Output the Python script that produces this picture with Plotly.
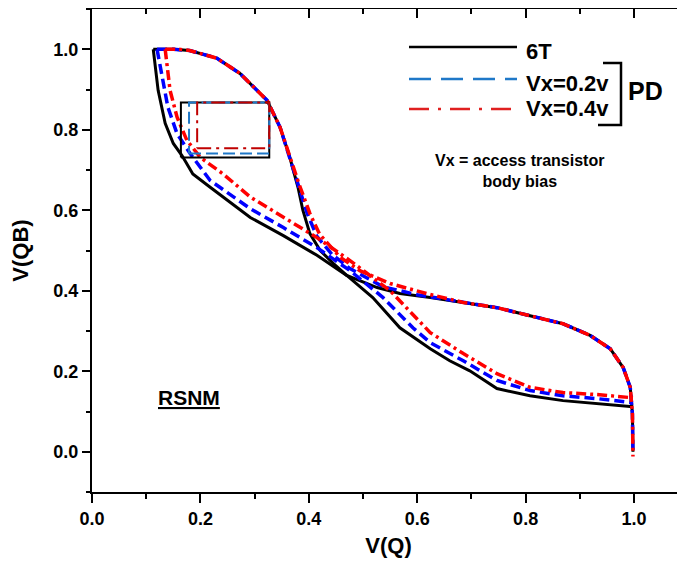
import plotly.graph_objects as go

# butterfly curves (V(Q), V(QB))
t6_up_x = [0.113, 0.15, 0.18, 0.23, 0.273, 0.304, 0.323, 0.347, 0.365, 0.38, 0.389, 0.402, 0.421, 0.445, 0.47,
           0.526, 0.568, 0.624, 0.685, 0.747, 0.808, 0.869, 0.919, 0.956, 0.98, 0.993, 0.997, 0.998, 0.998]
t6_up_y = [1.0, 1.0, 0.997, 0.978, 0.94, 0.898, 0.873, 0.806, 0.731, 0.657, 0.6, 0.542, 0.5, 0.468, 0.438,
           0.408, 0.393, 0.383, 0.371, 0.358, 0.338, 0.318, 0.289, 0.256, 0.209, 0.16, 0.094, 0.03, 0.0]
t6_lo_x = [0.113, 0.122, 0.135, 0.15, 0.166, 0.186, 0.218, 0.292, 0.353, 0.415, 0.47, 0.518, 0.568, 0.624,
           0.66, 0.697, 0.747, 0.808, 0.869, 0.932, 0.998]
t6_lo_y = [1.0, 0.898, 0.816, 0.766, 0.736, 0.69, 0.657, 0.582, 0.537, 0.488, 0.438, 0.383, 0.308, 0.256,
           0.226, 0.201, 0.157, 0.139, 0.127, 0.119, 0.112]

vx02_up_x = [0.12, 0.15, 0.18, 0.23, 0.273, 0.304, 0.323, 0.347, 0.365, 0.381, 0.397, 0.415, 0.443, 0.476,
             0.537, 0.6, 0.685, 0.747, 0.808, 0.869, 0.919, 0.956, 0.98, 0.993, 0.997, 0.998, 0.998]
vx02_up_y = [1.0, 1.0, 0.997, 0.978, 0.94, 0.898, 0.873, 0.806, 0.731, 0.66, 0.592, 0.535, 0.49, 0.455,
             0.41, 0.39, 0.371, 0.358, 0.338, 0.318, 0.289, 0.256, 0.209, 0.16, 0.094, 0.03, -0.005]
vx02_lo_x = [0.12, 0.124, 0.14, 0.157, 0.181, 0.218, 0.292, 0.353, 0.415, 0.476, 0.537, 0.592, 0.624,
             0.685, 0.747, 0.808, 0.869, 0.932, 0.998]
vx02_lo_y = [1.0, 0.973, 0.856, 0.79, 0.741, 0.674, 0.604, 0.557, 0.507, 0.45, 0.383, 0.308, 0.271,
             0.226, 0.177, 0.152, 0.139, 0.132, 0.122]

vx04_up_x = [0.135, 0.16, 0.18, 0.23, 0.273, 0.304, 0.323, 0.347, 0.365, 0.382, 0.402, 0.42, 0.458, 0.494,
             0.55, 0.62, 0.685, 0.747, 0.808, 0.869, 0.919, 0.956, 0.98, 0.993, 0.997, 0.998, 0.998]
vx04_up_y = [1.0, 1.0, 0.997, 0.978, 0.94, 0.898, 0.873, 0.806, 0.731, 0.665, 0.592, 0.54, 0.483, 0.45,
             0.418, 0.392, 0.371, 0.358, 0.338, 0.318, 0.289, 0.256, 0.209, 0.16, 0.094, 0.03, -0.012]
vx04_lo_x = [0.135, 0.144, 0.157, 0.175, 0.2, 0.242, 0.292, 0.353, 0.415, 0.476, 0.55, 0.624, 0.685,
             0.747, 0.808, 0.869, 0.932, 0.998]
vx04_lo_y = [1.0, 0.898, 0.831, 0.774, 0.731, 0.69, 0.633, 0.582, 0.532, 0.475, 0.40, 0.296, 0.244,
             0.194, 0.16, 0.147, 0.142, 0.134]

# noise-margin squares: 6T, Vx=0.2v, Vx=0.4v
snm_left = [0.164, 0.179, 0.194]
snm_right = [0.327, 0.327, 0.327]
snm_bottom = [0.731, 0.741, 0.754]
snm_top = [0.868, 0.868, 0.868]

FONT = "Liberation Sans, Arial, sans-serif"
curve_styles = [
    dict(color='black', dash='solid', width=3),
    dict(color='#0000ff', dash='10px,5px', width=3.5),
    dict(color='#ff0000', dash='10px,4px,3px,4px', width=3.5),
]
square_styles = [
    dict(color='black', dash='solid', width=2),
    dict(color='#1f78c8', dash='12px,5px', width=2),
    dict(color='#c00000', dash='14px,5px,3px,5px', width=2),
]
curves = [(t6_up_x, t6_up_y, t6_lo_x, t6_lo_y),
          (vx02_up_x, vx02_up_y, vx02_lo_x, vx02_lo_y),
          (vx04_up_x, vx04_up_y, vx04_lo_x, vx04_lo_y)]

fig = go.Figure()
for i, (ux, uy, lx, ly) in enumerate(curves):
    fig.add_trace(go.Scatter(x=lx, y=ly, mode='lines', line=curve_styles[i], showlegend=False))
    fig.add_trace(go.Scatter(x=ux, y=uy, mode='lines', line=curve_styles[i], showlegend=False))

for i in range(3):
    x0, x1, y0, y1 = snm_left[i], snm_right[i], snm_bottom[i], snm_top[i]
    fig.add_trace(go.Scatter(x=[x0, x1, x1, x0, x0], y=[y0, y0, y1, y1, y0], mode='lines',
                             line=square_styles[i], showlegend=False))

# dummy trace so the top/right tick axes get drawn
fig.add_trace(go.Scatter(x=[None], y=[None], xaxis='x2', yaxis='y2', showlegend=False))

tickfont = dict(family=FONT, size=18, color='black', weight='bold')
# page body has an 8px margin, so the figure is 8px smaller and shifted
fig.update_layout(
    width=677, height=555,
    margin=dict(l=84, r=0, t=1, b=71),
    paper_bgcolor='white', plot_bgcolor='white',
    xaxis=dict(range=[0, 1.094], tickvals=[0, 0.2, 0.4, 0.6, 0.8, 1.0],
               ticktext=['0.0', '0.2', '0.4', '0.6', '0.8', '1.0'], automargin=False,
               ticks='outside', ticklen=9, tickwidth=2, tickcolor='black',
               minor=dict(ticks='outside', ticklen=5, tickwidth=2, tickcolor='black', dtick=0.1, tick0=0),
               showline=True, linewidth=2, linecolor='black', showgrid=False, zeroline=False,
               tickfont=tickfont,
               title=dict(text='V(Q)', font=dict(family=FONT, size=22, color='black', weight='bold'), standoff=10)),
    yaxis=dict(range=[-0.1, 1.1], tickvals=[0, 0.2, 0.4, 0.6, 0.8, 1.0],
               ticktext=['0.0', '0.2', '0.4', '0.6', '0.8', '1.0'], automargin=False,
               ticks='outside', ticklen=8, tickwidth=2, tickcolor='black',
               minor=dict(ticks='outside', ticklen=4, tickwidth=2, tickcolor='black', dtick=0.1, tick0=0),
               showline=True, linewidth=2, linecolor='black', showgrid=False, zeroline=False,
               tickfont=tickfont,
               title=dict(text='V(QB)', font=dict(family=FONT, size=22, color='black', weight='bold'), standoff=21)),
    xaxis2=dict(overlaying='x', side='top', matches='x', showticklabels=False, automargin=False,
                tickvals=[0, 0.2, 0.4, 0.6, 0.8, 1.0], ticks='inside', ticklen=9, tickwidth=2, tickcolor='black',
                minor=dict(ticks='inside', ticklen=5, tickwidth=2, tickcolor='black', dtick=0.1, tick0=0),
                showline=True, linewidth=2, linecolor='black', showgrid=False, zeroline=False),
    yaxis2=dict(overlaying='y', side='right', matches='y', showticklabels=False, automargin=False,
                tickvals=[0, 0.2, 0.4, 0.6, 0.8, 1.0], ticks='inside', ticklen=6, tickwidth=2, tickcolor='black',
                minor=dict(ticks='inside', ticklen=3, tickwidth=2, tickcolor='black', dtick=0.1, tick0=0),
                showline=False, showgrid=False, zeroline=False),
)

# hand-made legend, paper coordinates (from screen pixels)
px = lambda v: (v - 92) / 593.0
py = lambda v: (492 - v) / 483.0
legend_rows = [(47, 'black', 'solid', '6T', 51),
               (79, '#1f78c8', '22px,10px', 'Vx=0.2v', 83),
               (109, '#e02020', '20px,9px,3px,9px', 'Vx=0.4v', 109)]
for ly, col, dash, label, ty in legend_rows:
    fig.add_shape(type='line', xref='paper', yref='paper', x0=px(409), x1=px(517), y0=py(ly), y1=py(ly),
                  line=dict(color=col, dash=dash, width=2.5))
    fig.add_annotation(xref='paper', yref='paper', x=px(524), y=py(ty), xanchor='left', yanchor='middle',
                       text=label, showarrow=False,
                       font=dict(family=FONT, size=22, color='black', weight='bold'))

# bracket for PD
fig.add_shape(type='path', xref='paper', yref='paper',
              path=f"M {px(603)} {py(63)} L {px(621)} {py(63)} L {px(621)} {py(125)} L {px(598)} {py(125)}",
              line=dict(color='black', width=2.5))
fig.add_annotation(xref='paper', yref='paper', x=px(626), y=py(91), xanchor='left', yanchor='middle',
                   text='PD', showarrow=False, font=dict(family=FONT, size=25, color='black', weight='bold'))
fig.add_annotation(xref='paper', yref='paper', x=px(519), y=py(171), xanchor='center', yanchor='middle',
                   text='Vx = access transistor<br>body bias', showarrow=False,
                   font=dict(family=FONT, size=16, color='black', weight='bold'))
fig.add_annotation(xref='paper', yref='paper', x=px(156), y=py(397), xanchor='left', yanchor='middle',
                   text='<u>RSNM</u>', showarrow=False,
                   font=dict(family=FONT, size=21, color='black', weight='bold'))

fig.write_html("out.html")
